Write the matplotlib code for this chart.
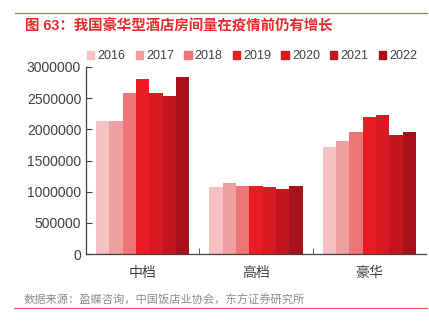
import numpy as np
import matplotlib.pyplot as plt
from matplotlib.patches import Patch
from matplotlib.lines import Line2D

plt.rcParams['font.family'] = ['Liberation Sans', 'Noto Sans CJK SC']

categories = ['中档', '高档', '豪华']
years = ['2016', '2017', '2018', '2019', '2020', '2021', '2022']
values = {
    '2016': [2140000, 1075000, 1710000],
    '2017': [2140000, 1135000, 1815000],
    '2018': [2585000, 1095000, 1960000],
    '2019': [2800000, 1095000, 2205000],
    '2020': [2585000, 1075000, 2225000],
    '2021': [2540000, 1040000, 1910000],
    '2022': [2840000, 1085000, 1960000],
}
colors = ['#F5C1C2', '#F09FA0', '#EE7576', '#EC1C24', '#DA1A22', '#C3161C', '#A8111A']

title = '图 63：我国豪华型酒店房间量在疫情前仍有增长'
source = '数据来源：盈蝶咨询，中国饭店业协会，东方证券研究所'

fig = plt.figure(figsize=(4.29, 3.27), dpi=100)
ax = fig.add_axes([86 / 429, 1 - 254 / 327, 340 / 429, 187 / 327])

x = np.arange(len(categories))
w = 0.118
for i, y in enumerate(years):
    ax.bar(x + (i - 3) * w, values[y], width=w, color=colors[i], linewidth=0)

ax.set_ylim(0, 3000000)
ax.set_xlim(-0.5, 2.5)
ax.set_yticks(np.arange(0, 3000001, 500000))
ax.set_yticklabels([str(v) for v in range(0, 3000001, 500000)])
ax.set_xticks(x)
ax.set_xticklabels(categories)
ax.set_xticks([0.5, 1.5], minor=True)
ax.tick_params(axis='x', which='major', length=0, pad=9, labelsize=10, labelcolor='#404040')
ax.tick_params(axis='x', which='minor', length=4, direction='in', color='#404040')
ax.tick_params(axis='y', length=4, direction='in', labelsize=10, labelcolor='#404040', color='#404040')
for s in ['top', 'right']:
    ax.spines[s].set_visible(False)
for s in ['left', 'bottom']:
    ax.spines[s].set_color('#404040')
    ax.spines[s].set_linewidth(0.9)

handles = [Patch(color=c) for c in colors]
fig.legend(handles, years, ncol=7, loc='center', bbox_to_anchor=(252 / 429, 1 - 56 / 327),
           frameon=False, fontsize=9, handlelength=0.6, handleheight=0.6,
           handletextpad=0.25, columnspacing=0.8, labelcolor='#404040',
           borderpad=0, borderaxespad=0)

fig.text(25 / 429, 1 - 25 / 327, title, fontsize=10.4, fontweight='bold', color='#E8282B',
         va='center', ha='left')
fig.text(24 / 429, 1 - 300 / 327, source, fontsize=8.1, color='#8C8C8C', va='center', ha='left')
fig.add_artist(Line2D([15 / 429, 427 / 429], [1 - 13 / 327] * 2, color='#E8282B', lw=0.8, alpha=0.8))
fig.add_artist(Line2D([14 / 429, 427 / 429], [1 - 308 / 327] * 2, color='#E8282B', lw=0.8, alpha=0.8))

fig.savefig('out.png', dpi=100)
